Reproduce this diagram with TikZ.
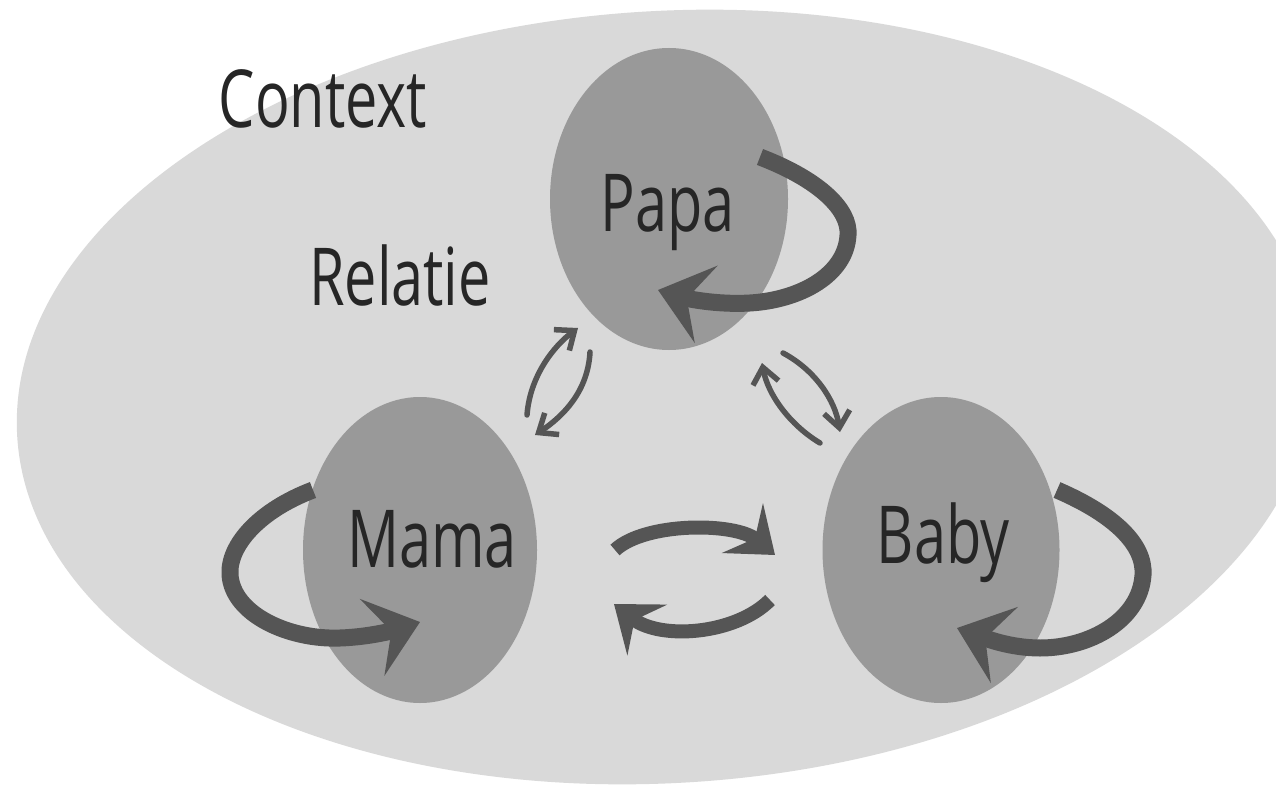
\documentclass[tikz,border=0pt]{standalone}
\usepackage{fontspec}
\newfontfamily\lblfont[FakeStretch=0.72]{Open Sans}
\usetikzlibrary{arrows.meta,shapes.geometric}
\definecolor{ctxgray}{HTML}{D9D9D9}
\definecolor{persgray}{HTML}{999999}
\definecolor{arrgray}{HTML}{555555}
\definecolor{txtgray}{HTML}{262626}
\begin{document}
\begin{tikzpicture}[x=1pt,y=-1pt,
  person/.style={ellipse, fill=persgray, inner sep=0pt},
  lbl/.style={font=\lblfont\fontsize{80}{96}\selectfont, text=txtgray, anchor=base, inner sep=0pt},
  selfloop/.style={draw=arrgray, line width=17pt, -{Stealth[length=50pt,width=80pt,inset=20pt]}},
  bigarrow/.style={draw=arrgray, line width=14pt, -{Stealth[length=42pt,width=64pt,inset=16pt]}},
  thinarrow/.style={draw=arrgray, line width=5.5pt, line cap=round, -{Straight Barb[length=16pt,width=26pt]}}]
\useasboundingbox (0,0) rectangle (1276,786);
\fill[white] (0,0) rectangle (1276,786);
\clip (0,0) rectangle (1276,786);
% context
\node[ellipse, fill=ctxgray, minimum width=1300pt, minimum height=772pt, rotate=3.5] (ctx) at (666,397) {};
% persons
\node[person, minimum width=238pt, minimum height=302pt] (papa) at (669,199) {};
\node[person, minimum width=234pt, minimum height=306pt] (mama) at (420,550) {};
\node[person, minimum width=237pt, minimum height=306pt] (baby) at (941,550) {};
% coordinates
\coordinate (pS) at (760,157); \coordinate (pE) at (658,290);
\coordinate (mS) at (313,490); \coordinate (mE) at (420,622);
\coordinate (bS) at (1057,490); \coordinate (bE) at (957,628);
\coordinate (uS) at (615,550); \coordinate (uE) at (775,555);
\coordinate (lS) at (770,600); \coordinate (lE) at (614,604);
\coordinate (a1S) at (527,415); \coordinate (a1E) at (578,328);
\coordinate (a2S) at (590,352); \coordinate (a2E) at (535,435);
\coordinate (a3S) at (820,443); \coordinate (a3E) at (762,363);
\coordinate (a4S) at (783,353); \coordinate (a4E) at (840,432);
% self loops
\draw[selfloop] (pS) .. controls (820,180) and (850,210) .. (848,235)
   .. controls (846,275) and (800,300) .. (750,303)
   .. controls (715,305) and (685,298) .. (pE);
\draw[selfloop] (mS) .. controls (260,510) and (228,545) .. (230,575)
   .. controls (233,615) and (290,640) .. (340,638)
   .. controls (370,637) and (395,630) .. (mE);
\draw[selfloop] (bS) .. controls (1115,515) and (1145,545) .. (1143,575)
   .. controls (1140,620) and (1090,648) .. (1040,648)
   .. controls (1010,648) and (985,638) .. (bE);
% mama - baby
\draw[bigarrow] (uS) .. controls (645,522) and (735,522) .. (uE);
\draw[bigarrow] (lS) .. controls (735,635) and (660,640) .. (lE);
% thin arrows
\draw[thinarrow] (a1S) .. controls (530,375) and (555,345) .. (a1E);
\draw[thinarrow] (a2S) .. controls (588,390) and (565,415) .. (a2E);
\draw[thinarrow] (a3S) .. controls (790,425) and (768,395) .. (a3E);
\draw[thinarrow] (a4S) .. controls (815,370) and (835,400) .. (a4E);
% labels
\node[lbl] (context) at (323,128) {Context};
\node[lbl] (relatie) at (400,305) {Relatie};
\node[lbl] (papaT) at (668,232) {Papa};
\node[lbl] (mamaT) at (432,567) {Mama};
\node[lbl] (babyT) at (943,563) {Baby};
\end{tikzpicture}
\end{document}
